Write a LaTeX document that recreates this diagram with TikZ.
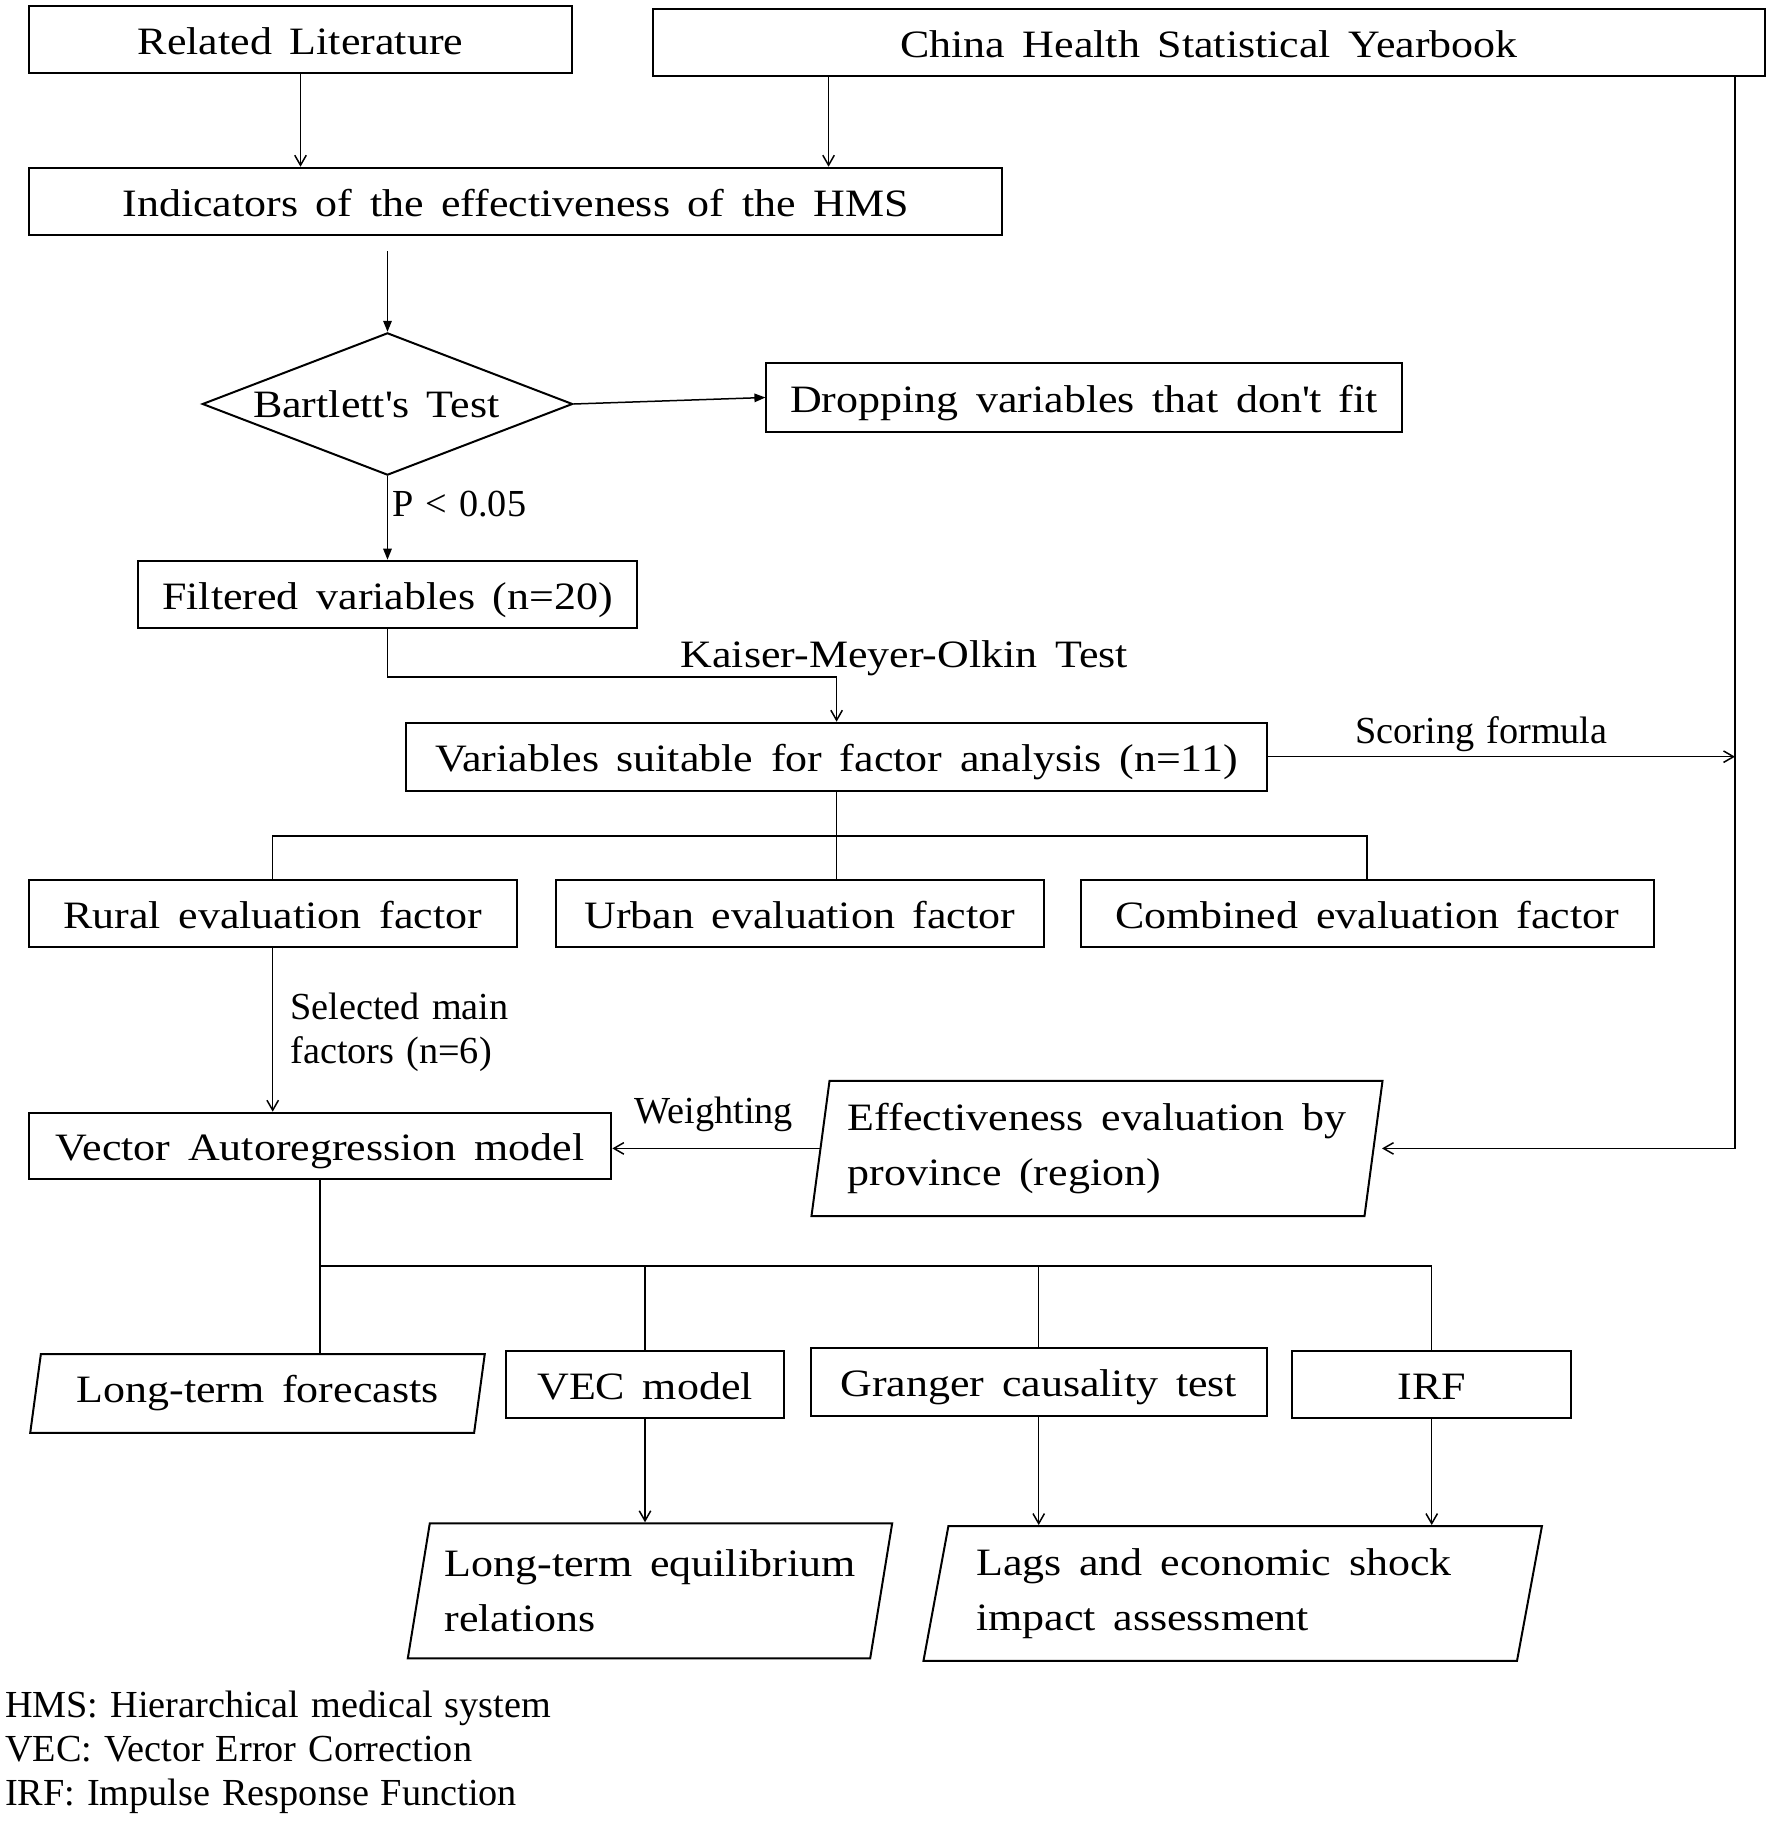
\documentclass[tikz,border=0pt]{standalone}
\usepackage{fontspec}
\setmainfont[WordSpace=1.25]{Liberation Serif}
\newfontfamily\boxfont[FakeStretch=1.135,WordSpace=1.6]{Liberation Serif}
\usetikzlibrary{shapes.geometric,arrows.meta}

\tikzset{
  boxbase/.style={draw, line width=0.8pt, inner sep=0pt,
    font=\boxfont\fontsize{15.5}{22}\selectfont},
  box/.style={boxbase, rectangle, text height=11.8pt, text depth=0pt},
  sz/.style 2 args={minimum width=#1*0.4pt, minimum height=#2*0.4pt},
  iobox/.style={boxbase, trapezium, trapezium left angle=76,
    trapezium right angle=104, trapezium stretches=true, align=left},
  decision/.style={boxbase, diamond, aspect=2.6},
  lbl/.style={inner sep=0pt, font=\fontsize{15.3}{17.6}\selectfont},
  lblbig/.style={inner sep=0pt, font=\boxfont\fontsize{15.5}{22}\selectfont},
  link/.style={line width=0.6pt},
  open/.style={link, -{Straight Barb[length=4pt,width=4.6pt]}},
  fillarr/.style={link, -{Triangle[length=4.4pt,width=3.4pt]}}
}

\begin{document}
\begin{tikzpicture}[x=0.4pt, y=-0.4pt]
  \useasboundingbox (0,0) rectangle (1772,1824);
  % sources
  \node[box, sz={543.6}{67.6}] (lit) at (300.5,39.5) {Related Literature};
  \node[box, sz={1111.2}{67}] (chsy) at (1208.9,42.5) {China Health Statistical Yearbook};
  \node[box, sz={973.6}{67.3}] (ind) at (515.5,201.4) {Indicators of the effectiveness of the HMS};
  % screening
  \node[decision, sz={370.3}{142.3}] (bart) at (387.5,404) {Bartlett\textquotesingle s Test\hspace*{9pt}};
  \node[box, sz={635.2}{68.4}] (drop) at (1084,397.5) {Dropping variables that don\textquotesingle t fit};
  \node[box, sz={499.4}{67.6}] (filt) at (387.5,594.5) {Filtered variables (n=20)};
  \node[box, sz={860.4}{68}] (suit) at (836.6,756.7) {Variables suitable for factor analysis (n=11)};
  % factors
  \node[box, sz={487.9}{67.3}] (rur) at (272.7,913.7) {Rural evaluation factor};
  \node[box, sz={488.1}{67.3}] (urb) at (799.8,913.7) {Urban evaluation factor};
  \node[box, sz={572.8}{67.3}] (comb) at (1367.2,913.7) {Combined evaluation factor};
  \node[box, sz={582.7}{66.6}] (varm) at (320,1146) {Vector Autoregression model};
  \node[iobox, sz={572.8}{135.3}, trapezium left angle=79.5,
    trapezium right angle=100.5] (eff) at (1097,1148.4) {Effectiveness evaluation by\\province (region)};
  % model outputs
  \node[iobox, sz={455}{78.7}] (ltf) at (257.5,1393.4) {Long-term forecasts};
  \node[box, sz={277.3}{67.6}] (vec) at (645,1384.5) {VEC model};
  \node[box, sz={456.2}{67.7}] (gra) at (1038.7,1382.2) {Granger causality test};
  \node[box, sz={278.6}{67.6}] (irf) at (1431.7,1384.5) {IRF};
  \node[iobox, sz={485.1}{135}] (lte) at (650,1590.8) {Long-term equilibrium\\relations};
  \node[iobox, sz={620}{134.7}] (lags) at (1232.7,1593.4) {Lags and economic shock\hspace*{15pt}\\impact assessment};
  % labels
  \node[lbl, anchor=base west] (pv) at (392,516.7) {P < 0.05};
  \node[lblbig, anchor=base west] (kmo) at (680,667) {Kaiser-Meyer-Olkin Test};
  \node[lbl, anchor=base west] (sf) at (1355,743.3) {Scoring formula};
  \node[lbl, anchor=north west, align=left] (sel) at (290,992) {Selected main\\factors (n=6)};
  \node[lbl, anchor=base west] (wt) at (634,1123) {Weighting};
  \node[lbl, anchor=north west, align=left] (legend) at (4.6,1690)
    {HMS: Hierarchical medical system\\VEC: Vector Error Correction\\IRF: Impulse Response Function};
  \coordinate (rail) at (1735,0);
  \coordinate (bus) at (0,1266);
  % connectors
  \draw[open] (lit.south) -- (lit.south |- ind.north);
  \draw[open] ([xshift=70.5pt]chsy.south west) coordinate (cfoot) -- (cfoot |- ind.north);
  \draw[fillarr, shorten <=6pt] (ind.south -| bart.north) -- (bart.north);
  \draw[fillarr] (bart.east) -- (drop.west);
  \draw[fillarr] (bart.south) -- (filt.north);
  \draw[open] (filt.south) -- ++(0,47.7) -| (suit.north);
  \draw[link] (suit.south) -- (suit.south |- urb.north);
  \draw[link] (rur.north) -- ++(0,-43.3) -| (comb.north);
  \draw[open] (suit.east) -- (suit.east -| rail);
  \draw[open, shorten >=3pt] (chsy.south -| rail) |- (eff.east);
  \draw[open] (rur.south) -- (rur.south |- varm.north);
  \draw[open] (eff.west) -- (eff.west -| varm.east);
  \draw[link] (varm.south) -- (varm.south |- bus) -- (irf.north |- bus) -- (irf.north);
  \draw[link] (varm.south |- bus) -- (varm.south |- ltf.north);
  \draw[link] (vec.north) -- (vec.north |- bus);
  \draw[link] (gra.north) -- (gra.north |- bus);
  \draw[open] (vec.south) -- (vec.south |- lte.north);
  \draw[open] (gra.south) -- (gra.south |- lags.north);
  \draw[open] (irf.south) -- (irf.south |- lags.north);
\end{tikzpicture}
\end{document}
